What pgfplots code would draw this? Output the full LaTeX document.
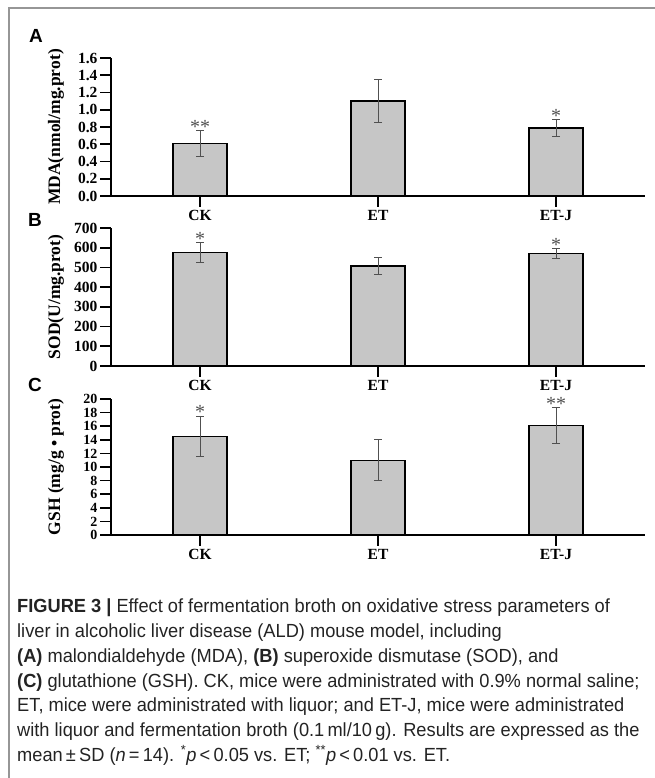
\documentclass[border=0pt]{standalone}
\usepackage{fontspec}
\setmainfont{Liberation Serif}
\newfontfamily\sansbf{Liberation Sans}
\newfontfamily\capfont[FakeStretch=0.96]{Liberation Sans}
\usepackage{pgfplots}
\pgfplotsset{compat=1.18}

\definecolor{barfill}{RGB}{198,198,198}
\definecolor{errgray}{RGB}{80,80,80}
\definecolor{framegray}{RGB}{150,150,150}

\pgfplotsset{
  panel/.style={
    scale only axis, width=534pt,
    xmin=-0.5, xmax=2.5, ymin=0,
    axis x line=bottom, axis y line=left,
    axis line style={line width=1.6pt, -},
    xtick={0,1,2}, xticklabels={CK,ET,ET-J},
    tick align=outside, major tick length=11pt,
    every tick/.style={line width=1.6pt, black},
    /pgf/number format/assume math mode=true,
    ticklabel style={font=\bfseries\fontsize{15.5}{15.5}\selectfont},
    yticklabel style={xshift=1pt, inner ysep=0pt},
    every axis y label/.style={at={(axis description cs:-0.103,0.5)}, rotate=90, anchor=center,
      font=\bfseries\fontsize{17.5}{17.5}\selectfont},
    clip=false,
  },
  bars/.style={
    ybar, bar width=54pt, fill=barfill, draw=black, line width=1.3pt,
    error bars/.cd, y dir=both, y explicit,
    error bar style={line width=0.9pt, errgray},
    error mark options={rotate=90, mark size=4pt, line width=0.9pt, errgray},
  },
  stars/.style={
    draw=none, mark=none, point meta=explicit symbolic, nodes near coords,
    every node near coord/.append style={anchor=south, inner sep=0pt, text=errgray,
      yshift=-3pt, font=\fontsize{20}{20}\selectfont},
  },
}

\begin{document}
\begin{tikzpicture}
\useasboundingbox (0,0) rectangle (655pt,778pt);
\draw[framegray, line width=1.6pt] (9pt,0) -- (9pt,770pt) -- (655pt,770pt);

% A: MDA
\begin{axis}[panel, at={(111pt,582pt)}, anchor=south west, height=138pt,
  ymax=1.6, ytick={0,0.2,...,1.6},
  yticklabel style={/pgf/number format/.cd, fixed, fixed zerofill, precision=1},
  ylabel={MDA(nmol/mg.prot)}]
\addplot[bars] table[x=x, y=y, y error=e] {
x y e
0 0.61 0.15
1 1.10 0.25
2 0.79 0.10
};
\addplot[stars] coordinates {(0,0.76) [**] (2,0.89) [*]};
\end{axis}

% B: SOD
\begin{axis}[panel, at={(111pt,412pt)}, anchor=south west, height=138pt,
  ymax=700, ytick={0,100,...,700},
  ylabel={SOD(U/mg.prot)}]
\addplot[bars] table[x=x, y=y, y error=e] {
x y e
0 576 50
1 507 43
2 571 25
};
\addplot[stars] coordinates {(0,626) [*] (2,596) [*]};
\end{axis}

% C: GSH
\begin{axis}[panel, at={(111pt,243pt)}, anchor=south west, height=136pt,
  ymax=20, ytick={0,2,...,20},
  yticklabel style={font=\bfseries\fontsize{14}{14}\selectfont},
  ylabel={GSH (mg/g \textbullet\ prot)}]
\addplot[bars] table[x=x, y=y, y error=e] {
x y e
0 14.5 3.0
1 11.0 3.0
2 16.1 2.6
};
\addplot[stars] coordinates {(0,17.5) [*] (2,18.7) [**]};
\end{axis}

\node[font=\sansbf\bfseries\fontsize{19}{19}\selectfont] at (36pt,742pt) {A};
\node[font=\sansbf\bfseries\fontsize{19}{19}\selectfont] at (35pt,558pt) {B};
\node[font=\sansbf\bfseries\fontsize{19}{19}\selectfont] at (35pt,393pt) {C};

\node[anchor=north west, align=left, inner sep=0pt, text={rgb,255:red,35;green,35;blue,35},
  font=\capfont\fontsize{19}{24.7}\selectfont] at (17pt,179pt) {%
\textbf{FIGURE 3} \textbf{|} Effect of fermentation broth on oxidative stress parameters of\\
liver in alcoholic liver disease (ALD) mouse model, including\\
\textbf{(A)} malondialdehyde (MDA), \textbf{(B)} superoxide dismutase (SOD), and\\
\textbf{(C)} glutathione (GSH). CK, mice were administrated with 0.9\% normal saline;\\
ET, mice were administrated with liquor; and ET-J, mice were administrated\\
with liquor and fermentation broth (0.1\,ml/10\,g). Results are expressed as the\\
mean\,±\,SD (\textit{n}\,=\,14). \textsuperscript{*}\textit{p}\,<\,0.05 vs. ET; \textsuperscript{**}\textit{p}\,<\,0.01 vs. ET.};
\end{tikzpicture}
\end{document}
